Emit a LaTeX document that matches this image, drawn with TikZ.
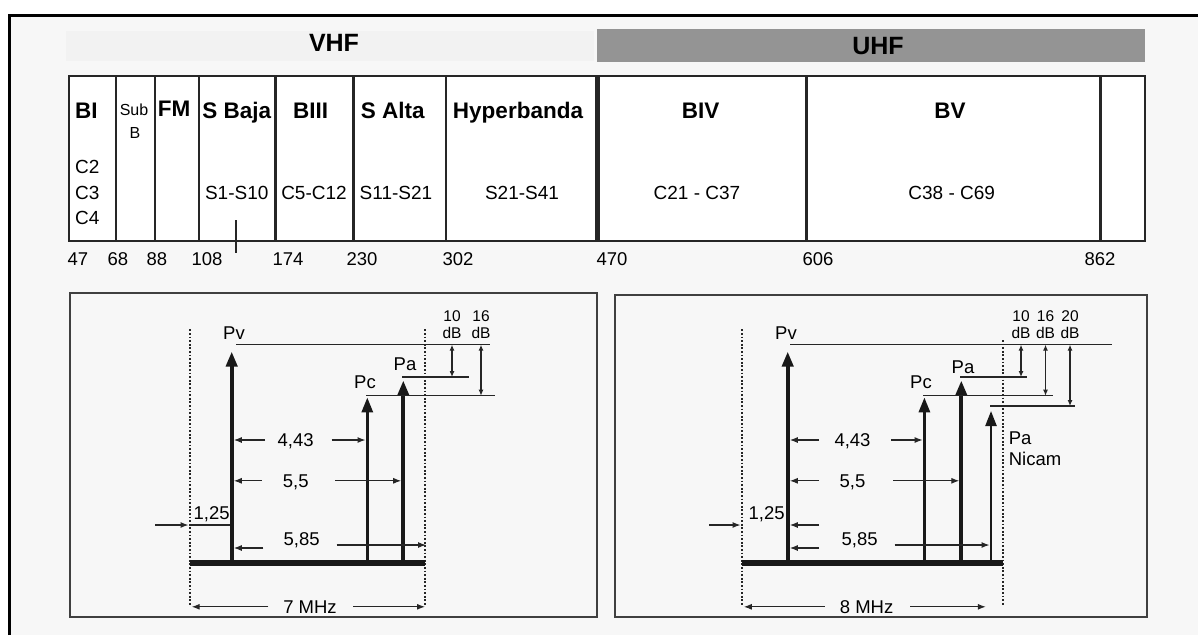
\documentclass[tikz,border=0pt]{standalone}
\usepackage{fontspec}
\setmainfont{Liberation Sans}
\usetikzlibrary{arrows.meta}
\begin{document}
\begin{tikzpicture}[x=1pt,y=-1pt,
  hdr/.style={font=\bfseries\fontsize{22.5}{22.5}\selectfont, inner sep=0pt, text height=16pt, text depth=0pt},
  sub/.style={font=\fontsize{16}{16}\selectfont, inner sep=0pt, text height=11.5pt, text depth=0pt},
  lbl/.style={font=\fontsize{19}{19}\selectfont, inner sep=0pt, text height=13.6pt, text depth=0pt},
  num/.style={font=\fontsize{18.5}{18.5}\selectfont, inner sep=0pt, text height=13.2pt, text depth=0pt},
  ptxt/.style={font=\fontsize{18.5}{18.5}\selectfont, inner sep=0pt, text height=13.2pt, text depth=0pt},
  dbtxt/.style={font=\fontsize{15.5}{15.5}\selectfont, inner sep=0pt, text height=11.1pt, text depth=0pt},
  band/.style={font=\bfseries\fontsize{25}{25}\selectfont, inner sep=0pt, text height=17.9pt, text depth=0pt},
  tline/.style={draw=black!85, line width=1.8pt},
  divider/.style={draw=black!85, line width=2.6pt},
  panel/.style={draw=black!75, line width=1.6pt},
  dotline/.style={draw=black!85, line width=2.4pt, dash pattern=on 1.8pt off 1.8pt},
  basebar/.style={draw=black!90, line width=6pt},
  carrier/.style={draw=black!90, line width=3.8pt, -{Triangle[length=15pt,width=11pt]}},
  thinline/.style={draw=black!85, line width=1.2pt},
  dim/.style={draw=black!85, line width=1.1pt, -{Latex[length=8pt,width=6pt]}},
  dbarrow/.style={draw=black!85, line width=1.1pt, {Latex[length=6pt,width=5pt]}-{Latex[length=6pt,width=5pt]}}
]
\useasboundingbox (0,0) rectangle (1198,635);
% paper and outer frame
\fill[black!3] (9,15) rectangle (1198,635);
\draw[line width=3pt] (9,635) -- (9,15) -- (1198,15);

% band headings
\fill[black!5] (66,31) rectangle (594,61);
\fill[black!42] (597,29) rectangle (1145,62);
\node[band] (vhf) at (334,43) {VHF};
\node[band] (uhf) at (878,46) {UHF};

% spectrum table
\fill[white] (69,76) rectangle (1145,240.7);
\draw[tline] (69,76) rectangle (1145,240.7);
\foreach \xx in {116,155,199,275.3,353.3,446}{\draw[divider] (\xx,76) -- (\xx,240.7);}
\draw[divider, line width=5pt] (597,76) -- (597,240.7);
\draw[divider, line width=3pt] (806.7,76) -- (806.7,240.7);
\draw[divider, line width=3pt] (1100,76) -- (1100,240.7);
\draw[thinline] (236,220) -- (236,253);

\node[hdr, anchor=west] (bi) at (75,110.7) {BI};
\node[sub] (sub) at (134,110) {Sub};
\node[sub] (subb) at (135,133) {B};
\node[hdr] (fm) at (174,108) {FM};
\node[hdr] (sbaja) at (236.7,110.7) {S Baja};
\node[hdr] (biii) at (310.7,110.7) {BIII};
\node[hdr] (salta) at (392.7,110.7) {S Alta};
\node[hdr] (hyper) at (518,110.7) {Hyperbanda};
\node[hdr] (biv) at (700.7,110.7) {BIV};
\node[hdr] (bv) at (950,110.7) {BV};

\node[lbl, anchor=west] (c2) at (75,166.7) {C2};
\node[lbl, anchor=west] (c3) at (75,193) {C3};
\node[lbl, anchor=west] (c4) at (75,218) {C4};
\node[lbl] (s1) at (236.7,193) {S1-S10};
\node[lbl] (c5) at (314,193) {C5-C12};
\node[lbl] (s11) at (396,193) {S11-S21};
\node[lbl] (s21) at (522,193) {S21-S41};
\node[lbl] (c21) at (697,193) {C21 - C37};
\node[lbl] (c38) at (951.7,193) {C38 - C69};

\node[num] (n47) at (78,259) {47};
\node[num] (n68) at (118,259) {68};
\node[num] (n88) at (157,259) {88};
\node[num] (n108) at (207,259) {108};
\node[num] (n174) at (288,259) {174};
\node[num] (n230) at (362,259) {230};
\node[num] (n302) at (458,259) {302};
\node[num] (n470) at (612,259) {470};
\node[num] (n606) at (818,259) {606};
\node[num] (n862) at (1100,259) {862};

% ---------- left panel (7 MHz) ----------
\draw[panel] (70,293) rectangle (597,617);
\coordinate (lA) at (190,329.4); \coordinate (lAb) at (190,605);
\coordinate (lB) at (425,329.4); \coordinate (lBb) at (425,605);
\draw[dotline] (lA) -- (lAb);
\draw[dotline] (lB) -- (lBb);
\draw[basebar] (190,562.5) -- (425,562.5);
\draw[carrier] (231.7,562.5) -- (231.7,351.5);
\draw[carrier, line width=3pt] (367.3,562.5) -- (367.3,397.4);
\draw[carrier] (403.3,562.5) -- (403.3,380.4);
\node[ptxt] (lpv) at (234,332.8) {Pv};
\node[ptxt] (lpc) at (365,381.4) {Pc};
\node[ptxt] (lpa) at (405,363.4) {Pa};
\draw[thinline] (236,344.7) -- (490,344.7);
\draw[thinline] (402,377) -- (469,377);
\draw[thinline] (366,395.7) -- (495,395.7);
\draw[dbarrow] (452,344.7) -- (452,377);
\draw[dbarrow] (481,344.7) -- (481,395.7);
\node[dbtxt] (l10) at (452,315.7) {10};
\node[dbtxt] (l10u) at (452,332.8) {dB};
\node[dbtxt] (l16) at (481,315.7) {16};
\node[dbtxt] (l16u) at (481,332.8) {dB};

\node[ptxt] (l443) at (295.7,440) {4,43};
\draw[dim] (265,440) -- (233.8,440);
\draw[dim] (331.7,440) -- (365.5,440);
\node[ptxt] (l55) at (295.7,480.8) {5,5};
\draw[dim] (261.7,480.8) -- (233.8,480.8);
\draw[dim] (335,480.8) -- (401.2,480.8);
\node[ptxt] (l125) at (211.7,513.2) {1,25};
\draw[dim] (155,525) -- (188.5,525);
\draw[thinline] (190,525) -- (230,525);
\node[ptxt] (l585) at (301.7,538.7) {5,85};
\draw[dim] (263.3,548) -- (233.8,548);
\draw[dim] (336.7,545) -- (426,545);
\node[ptxt] (l7) at (310,606.8) {7 MHz};
\draw[dim] (268.3,606.8) -- (191.7,606.8);
\draw[dim] (353.3,606.8) -- (425,606.8);

% ---------- right panel (8 MHz) ----------
\draw[panel] (615,295) rectangle (1147,617);
\draw[dotline] (742,329.4) -- (742,605);
\draw[dotline] (1003,340) -- (1003,605);
\draw[basebar] (742,562.5) -- (1003,562.5);
\draw[carrier] (787.7,562.5) -- (787.7,351.5);
\draw[carrier, line width=3pt] (924.4,562.5) -- (924.4,397.4);
\draw[carrier] (961.3,562.5) -- (961.3,380.4);
\draw[carrier, line width=2.4pt] (991,562.5) -- (991,411);
\node[ptxt] (rpv) at (786,332.8) {Pv};
\node[ptxt] (rpc) at (921,381.4) {Pc};
\node[ptxt] (rpa) at (963,367) {Pa};
\node[ptxt, anchor=west] (rpn) at (1008.6,438.3) {Pa};
\node[ptxt, anchor=west] (rnic) at (1008.6,458.7) {Nicam};
\draw[thinline] (790,344.7) -- (1112,344.7);
\draw[thinline] (960,377) -- (1027,377);
\draw[thinline] (923,395.7) -- (1052.5,395.7);
\draw[thinline] (990,406) -- (1075,406);
\draw[dbarrow] (1021,344.7) -- (1021,377);
\draw[dbarrow] (1045.5,344.7) -- (1045.5,395.7);
\draw[dbarrow] (1070,344.7) -- (1070,406);
\node[dbtxt] (r10) at (1021,315.7) {10};
\node[dbtxt] (r10u) at (1021,332.8) {dB};
\node[dbtxt] (r16) at (1045.5,315.7) {16};
\node[dbtxt] (r16u) at (1045.5,332.8) {dB};
\node[dbtxt] (r20) at (1070,315.7) {20};
\node[dbtxt] (r20u) at (1070,332.8) {dB};

\node[ptxt] (r443) at (852.5,440) {4,43};
\draw[dim] (819,440) -- (789.8,440);
\draw[dim] (891,440) -- (922.6,440);
\node[ptxt] (r55) at (852.5,480.8) {5,5};
\draw[dim] (819,480.8) -- (789.8,480.8);
\draw[dim] (893,480.8) -- (959.3,480.8);
\node[ptxt] (r125) at (766.6,513.2) {1,25};
\draw[dim] (709.4,525) -- (740.5,525);
\draw[dim] (819,525) -- (789.8,525);
\node[ptxt] (r585) at (859.6,538.7) {5,85};
\draw[dim] (819,548) -- (789.8,548);
\draw[dim] (894.6,545) -- (989.5,545);
\node[ptxt] (r8) at (866.6,606.8) {8 MHz};
\draw[dim] (824.5,606.8) -- (743.8,606.8);
\draw[dim] (910.4,606.8) -- (985.8,606.8);
\end{tikzpicture}
\end{document}
